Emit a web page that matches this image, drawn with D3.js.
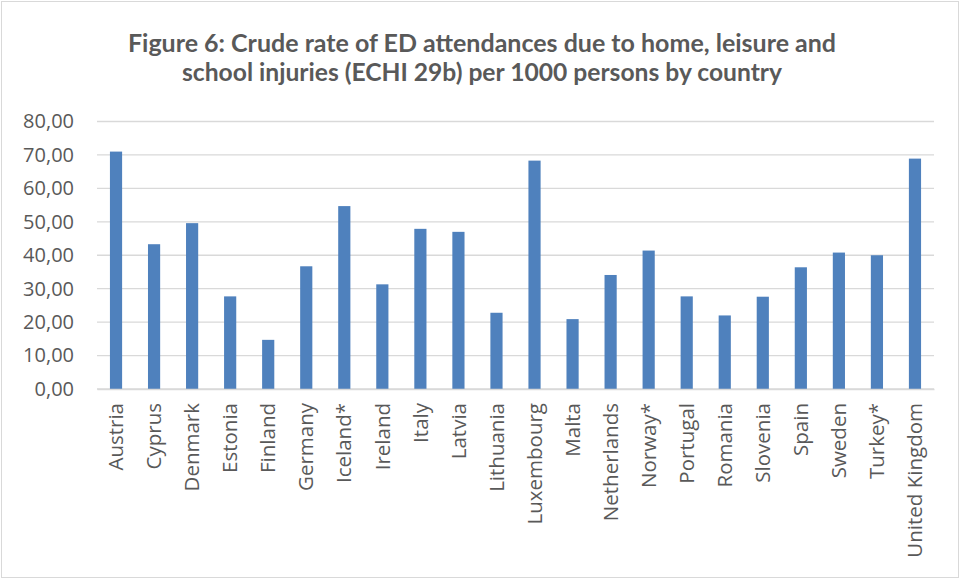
<!DOCTYPE html>
<html><head><meta charset="utf-8">
<script src="https://cdn.jsdelivr.net/npm/d3@7"></script>
<style>body{margin:0;background:#fff}svg{display:block}</style>
</head><body>
<script>
const titleLines = ["Figure 6: Crude rate of ED attendances due to home, leisure and",
                    "school injuries (ECHI 29b) per 1000 persons by country"];
const countries = ["Austria","Cyprus","Denmark","Estonia","Finland","Germany","Iceland*","Ireland","Italy","Latvia","Lithuania","Luxembourg","Malta","Netherlands","Norway*","Portugal","Romania","Slovenia","Spain","Sweden","Turkey*","United Kingdom"];
const rates = [71.0,43.3,49.6,27.7,14.7,36.7,54.7,31.3,47.9,47.0,22.8,68.3,20.9,34.1,41.4,27.7,22.0,27.6,36.4,40.8,40.0,68.9];
const yTicks = [0,10,20,30,40,50,60,70,80];

const W = 961, H = 580;
const svg = d3.select("body").append("svg").attr("width", W).attr("height", H);
svg.append("rect").attr("x",1.5).attr("y",1.5).attr("width",W-4).attr("height",H-4)
  .attr("fill","#fff").attr("stroke","#d9d9d9").attr("stroke-width",1);

const x = d3.scaleBand().domain(countries).range([97, 934]).paddingInner(0.68).paddingOuter(0.34);
const y = d3.scaleLinear().domain([0, 80]).range([389, 121.5]);
const fmt = v => d3.format(".2f")(v).replace(".", ",");

// gridlines
svg.append("g").selectAll("line").data(yTicks).join("line")
  .attr("x1", 97).attr("x2", 934).attr("y1", d => y(d)).attr("y2", d => y(d))
  .attr("stroke", "#d9d9d9").attr("stroke-width", 1.3);

// y axis
const yAxis = svg.append("g").attr("transform", "translate(97,0)")
  .call(d3.axisLeft(y).tickValues(yTicks).tickFormat(fmt).tickSize(0).tickPadding(23));
yAxis.select(".domain").remove();
yAxis.selectAll("text").attr("fill", "#595959").style("font-family", "'Open Sans', sans-serif").style("font-size", "20px");

// bars
svg.append("g").selectAll("rect").data(countries).join("rect")
  .attr("x", d => x(d)).attr("width", x.bandwidth())
  .attr("y", (d, i) => y(rates[i])).attr("height", (d, i) => y(0) - y(rates[i]))
  .attr("fill", "#4f81bd");

// x axis
const xAxis = svg.append("g").attr("transform", "translate(0,389)")
  .call(d3.axisBottom(x).tickSize(0).tickPadding(12));
xAxis.select(".domain").attr("stroke", "#d9d9d9").attr("stroke-width", 1.3);
xAxis.selectAll("text").attr("fill", "#595959")
  .style("font-family", "'Open Sans', sans-serif").style("font-size", "20.5px")
  .attr("transform", "rotate(-90)").attr("text-anchor", "end")
  .attr("x", -14).attr("y", 0).attr("dy", "0.35em");

// title
const t = svg.append("g");
const tgt = [708, 600];
titleLines.forEach((s, i) => {
  const el = t.append("text").attr("x", 482).attr("y", 52 + i * 29)
    .attr("text-anchor", "middle").attr("fill", "#595959")
    .style("font-family", "Lato, 'Open Sans', sans-serif").style("font-weight", "bold").style("font-size", "25px")
    .text(s);
  const len = el.node().getComputedTextLength();
  if (Math.abs(len - tgt[i]) > 4) el.attr("textLength", tgt[i]).attr("lengthAdjust", "spacingAndGlyphs");
});
</script>
</body></html>
